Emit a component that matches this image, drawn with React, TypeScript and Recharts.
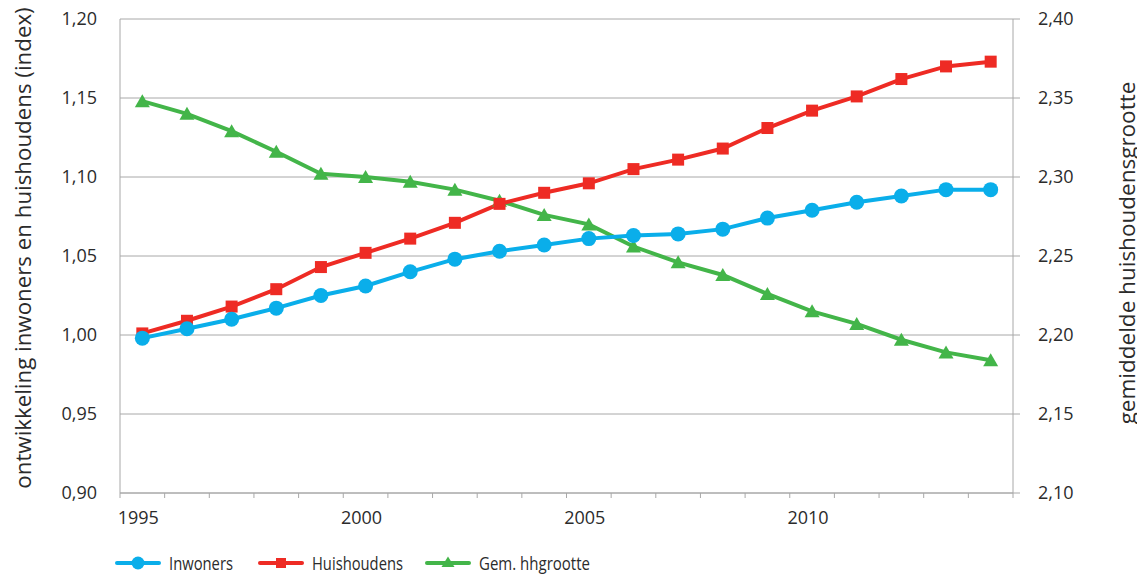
import React from 'react';
import { LineChart, Line, XAxis, YAxis, CartesianGrid } from 'recharts';

const years = [1995, 1996, 1997, 1998, 1999, 2000, 2001, 2002, 2003, 2004, 2005, 2006, 2007, 2008, 2009, 2010, 2011, 2012, 2013, 2014];
const inwoners = [0.998, 1.004, 1.010, 1.017, 1.025, 1.031, 1.040, 1.048, 1.053, 1.057, 1.061, 1.063, 1.064, 1.067, 1.074, 1.079, 1.084, 1.088, 1.092, 1.092];
const huishoudens = [1.001, 1.009, 1.018, 1.029, 1.043, 1.052, 1.061, 1.071, 1.083, 1.090, 1.096, 1.105, 1.111, 1.118, 1.131, 1.142, 1.151, 1.162, 1.170, 1.173];
const hhgrootte = [2.348, 2.340, 2.329, 2.316, 2.302, 2.300, 2.297, 2.292, 2.285, 2.276, 2.270, 2.256, 2.246, 2.238, 2.226, 2.215, 2.207, 2.197, 2.189, 2.184];
const xLabelYears = [1995, 2000, 2005, 2010];
const leftTicks = [0.9, 0.95, 1.0, 1.05, 1.1, 1.15, 1.2];
const rightTicks = [2.1, 2.15, 2.2, 2.25, 2.3, 2.35, 2.4];
const seriesNames = ['Inwoners', 'Huishoudens', 'Gem. hhgrootte'];
const leftTitle = 'ontwikkeling inwoners en huishoudens (index)';
const rightTitle = 'gemiddelde huishoudensgrootte';

const BLUE = '#0AAEEA';
const RED = '#EE2B24';
const GREEN = '#43B549';
const AXIS = '#A8A8A8';
const TEXT = '#2B2B2B';
const FONT = '"Open Sans", "Noto Sans", sans-serif';

const data = years.map((y, i) => ({ year: y, inw: inwoners[i], hh: huishoudens[i], gr: hhgrootte[i] }));
const boundaryTicks = [...years.map((y) => y - 0.5), years[years.length - 1] + 0.5];
const xTicks = [...boundaryTicks, ...xLabelYears];

const fmt = (v: number) => v.toFixed(2).replace('.', ',');

const XTick = (props: any) => {
  const { x, y, payload } = props;
  const v = payload.value;
  if (Math.abs(v % 1) > 0.01) {
    return <line x1={x} x2={x} y1={y} y2={y + 5} stroke={AXIS} strokeWidth={1} />;
  }
  return (
    <text x={x - 4} y={y + 31} textAnchor="middle" fill={TEXT} fontSize={18} fontFamily={FONT}>
      {v}
    </text>
  );
};

const Circle = (props: any) => {
  const { cx, cy } = props;
  if (cx == null || cy == null) return <g />;
  return <circle cx={cx} cy={cy} r={7.5} fill={BLUE} />;
};
const Square = (props: any) => {
  const { cx, cy } = props;
  if (cx == null || cy == null) return <g />;
  return <rect x={cx - 6} y={cy - 6} width={12} height={12} fill={RED} />;
};
const Triangle = (props: any) => {
  const { cx, cy } = props;
  if (cx == null || cy == null) return <g />;
  return <polygon points={`${cx},${cy - 7} ${cx + 7.5},${cy + 6} ${cx - 7.5},${cy + 6}`} fill={GREEN} />;
};

const LeftTitle = (props: any) => {
  const vb = props.viewBox || { x: 0, y: 0, width: 0, height: 0 };
  const cx = vb.x + 22;
  const cy = vb.y + vb.height / 2 - 8;
  return (
    <text x={cx} y={cy} transform={`rotate(-90 ${cx} ${cy})`} textAnchor="middle" dominantBaseline="central" fill={TEXT} fontSize={22.3} fontFamily={FONT}>
      {leftTitle}
    </text>
  );
};
const RightTitle = (props: any) => {
  const vb = props.viewBox || { x: 0, y: 0, width: 0, height: 0 };
  const cx = vb.x + 113;
  const cy = vb.y + vb.height / 2 - 3;
  return (
    <text x={cx} y={cy} transform={`rotate(-90 ${cx} ${cy})`} textAnchor="middle" dominantBaseline="central" fill={TEXT} fontSize={22.5} fontFamily={FONT}>
      {rightTitle}
    </text>
  );
};

const legendColors = [BLUE, RED, GREEN];
const legendLeft = [116, 259, 426];
const legendTextWidth = [64, 91, 111];

const LegendItem = ({ i }: { i: number }) => {
  const c = legendColors[i];
  const x0 = legendLeft[i];
  const mx = x0 + 22;
  return (
    <g>
      <line x1={x0 + 1} x2={x0 + 43} y1={15} y2={15} stroke={c} strokeWidth={4} strokeLinecap="round" />
      {i === 0 && <circle cx={mx} cy={15} r={6.5} fill={c} />}
      {i === 1 && <rect x={mx - 5} y={10} width={10} height={10} fill={c} />}
      {i === 2 && <polygon points={`${mx},8.5 ${mx + 6.5},19 ${mx - 6.5},19`} fill={c} />}
      <text x={x0 + 53} y={22} fill={TEXT} fontSize={19} fontFamily={FONT} textLength={legendTextWidth[i]} lengthAdjust="spacingAndGlyphs">
        {seriesNames[i]}
      </text>
    </g>
  );
};

export default function App() {
  return (
    <div style={{ position: 'relative', width: 1145, height: 578, marginTop: -8, marginLeft: -8, fontFamily: FONT }}>
      <LineChart width={1145} height={548} data={data} margin={{ top: 19, right: 0, bottom: 15, left: 0 }}>
        <CartesianGrid yAxisId="left" horizontal={true} vertical={false} stroke={AXIS} strokeWidth={1} />
        <XAxis
          dataKey="year"
          type="number"
          domain={[years[0] - 0.5, years[years.length - 1] + 0.5]}
          ticks={xTicks}
          interval={0}
          tick={<XTick />}
          tickLine={false}
          tickSize={0}
          tickMargin={0}
          height={40}
          axisLine={{ stroke: AXIS, strokeWidth: 1 }}
          allowDecimals={true}
        />
        <YAxis
          yAxisId="left"
          orientation="left"
          domain={[0.9, 1.2]}
          ticks={leftTicks}
          interval={0}
          tickFormatter={fmt}
          width={120}
          tickLine={false}
          tickSize={0}
          tickMargin={23}
          axisLine={{ stroke: AXIS, strokeWidth: 1 }}
          tick={{ fill: TEXT, fontSize: 18, fontFamily: FONT }}
          label={<LeftTitle />}
        />
        <YAxis
          yAxisId="right"
          orientation="right"
          domain={[2.1, 2.4]}
          ticks={rightTicks}
          interval={0}
          tickFormatter={fmt}
          width={132}
          tickLine={{ stroke: AXIS, strokeWidth: 1 }}
          tickSize={7}
          tickMargin={18}
          axisLine={{ stroke: AXIS, strokeWidth: 1 }}
          tick={{ fill: TEXT, fontSize: 18, fontFamily: FONT, textAnchor: 'start' }}
          label={<RightTitle />}
        />
        <Line yAxisId="right" dataKey="gr" name={seriesNames[2]} stroke={GREEN} strokeWidth={4} dot={<Triangle />} activeDot={false} isAnimationActive={false} />
        <Line yAxisId="left" dataKey="hh" name={seriesNames[1]} stroke={RED} strokeWidth={4} dot={<Square />} activeDot={false} isAnimationActive={false} />
        <Line yAxisId="left" dataKey="inw" name={seriesNames[0]} stroke={BLUE} strokeWidth={4} dot={<Circle />} activeDot={false} isAnimationActive={false} />
      </LineChart>
      <svg width={1145} height={30} style={{ position: 'absolute', left: 0, top: 548 }}>
        {seriesNames.map((n, i) => (
          <LegendItem key={n} i={i} />
        ))}
      </svg>
    </div>
  );
}
